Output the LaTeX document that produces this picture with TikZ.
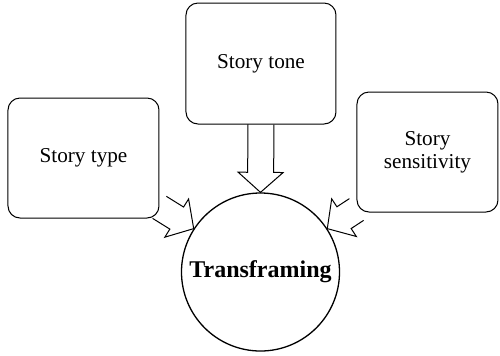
\documentclass[tikz,border=0pt]{standalone}
\usepackage{fontspec}
\setmainfont{Liberation Serif}
\usetikzlibrary{calc}

% Hollow block arrow: shaft 13pt wide, head 22.5pt wide and 10pt long
\newcommand\blockarrow[2]{%
  \coordinate (arrowbase) at ($(#2)!10pt!(#1)$);
  \draw[blockline]
    ($(#1)!6.5pt!90:(#2)$)
    -- ($(arrowbase)!6.5pt!90:(#2)$)
    -- ($(arrowbase)!11.25pt!90:(#2)$)
    -- (#2)
    -- ($(arrowbase)!11.25pt!-90:(#2)$)
    -- ($(arrowbase)!6.5pt!-90:(#2)$)
    -- ($(#1)!6.5pt!-90:(#2)$);
}

\begin{document}
\begin{tikzpicture}[x=0.5pt,y=-0.5pt,
  storybox/.style={draw, line width=0.5pt, rounded corners=6pt, align=center,
    inner sep=0pt, font=\fontsize{10.6}{11.5}\selectfont},
  hub/.style={draw, circle, line width=0.65pt, inner sep=0pt,
    font=\fontsize{12}{14}\selectfont\bfseries},
  blockline/.style={draw, line width=0.5pt, line join=miter}]
  \useasboundingbox (0,0) rectangle (500,355);

  \node[storybox, minimum width=75.5pt, minimum height=60pt] (type) at (83.5,158) {Story type};
  \node[storybox, minimum width=75pt, minimum height=60.5pt] (tone) at (261,63.5) {Story tone};
  \node[storybox, minimum width=70.5pt, minimum height=60pt] (sens) at (427.5,152) {Story\\sensitivity};
  \node[hub, minimum size=79pt] (frame) at (260.5,272) {Transframing};

  \blockarrow{tone.south}{frame.north}
  \blockarrow{type.-33}{frame.147}
  \blockarrow{sens.219}{frame.33}
\end{tikzpicture}
\end{document}
